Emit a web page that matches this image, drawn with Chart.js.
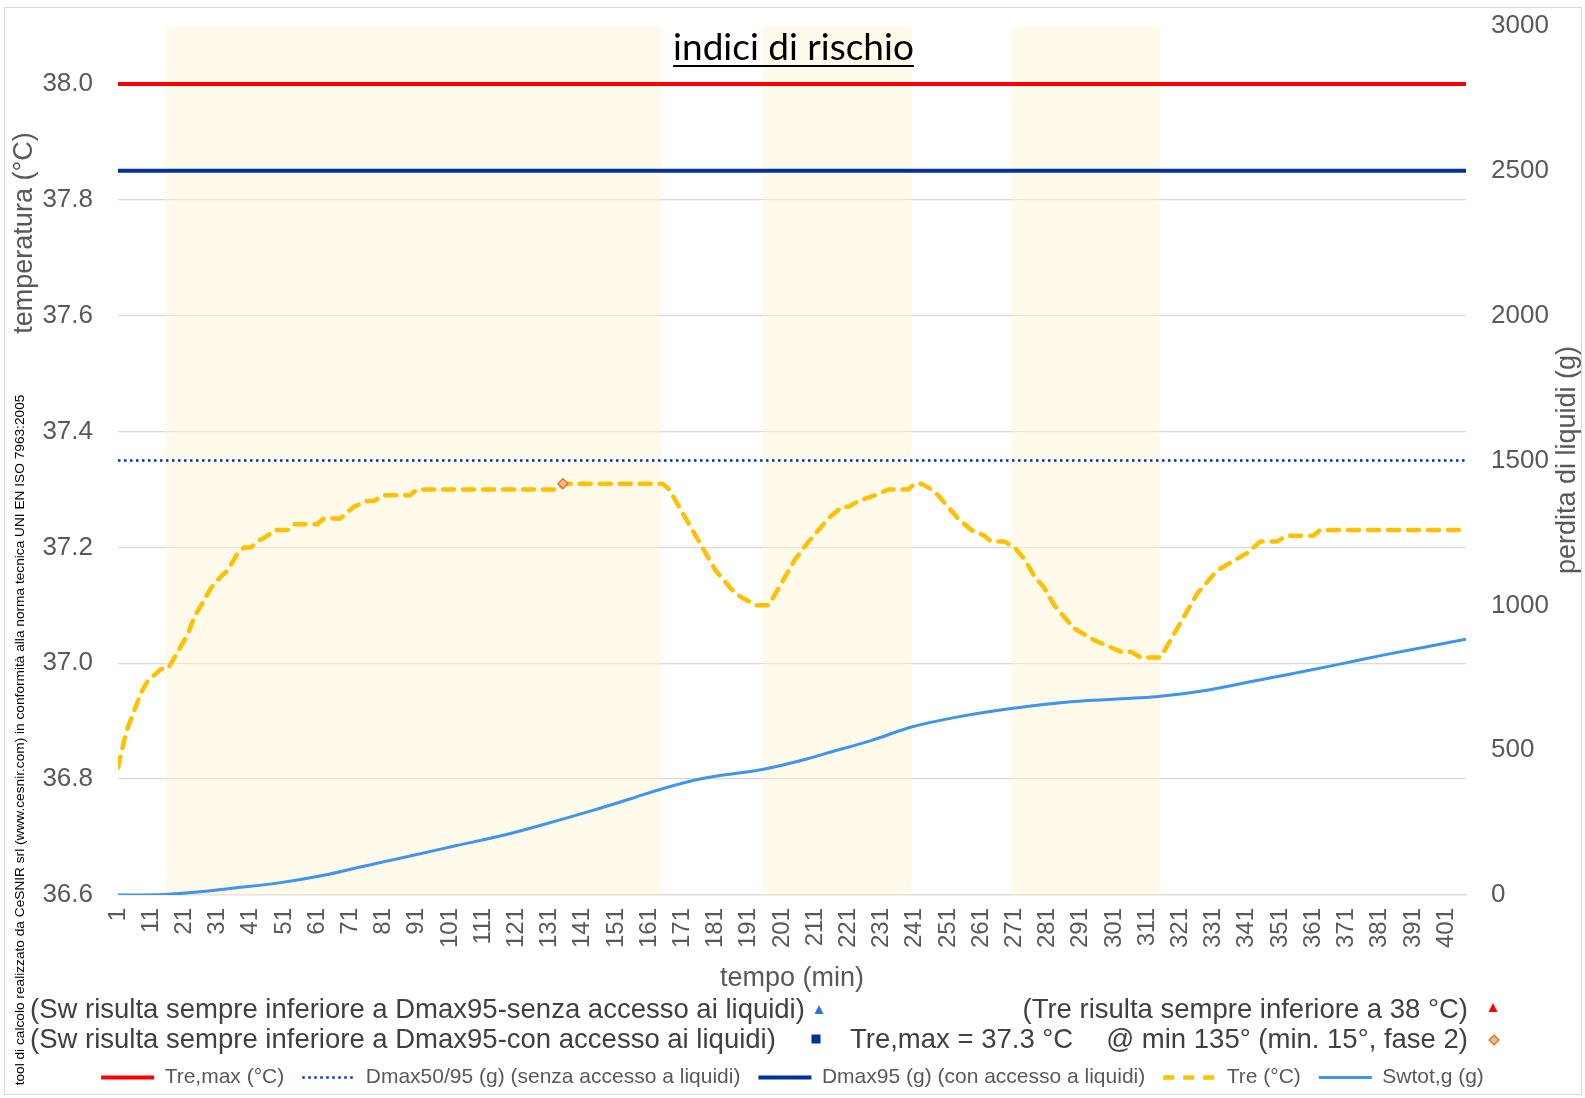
<!DOCTYPE html>
<html>
<head>
<meta charset="utf-8">
<title>indici di rischio</title>
<script src="https://cdn.jsdelivr.net/npm/chart.js@4.4.1/dist/chart.umd.min.js"></script>
<style>
  html, body { margin: 0; padding: 0; background: #fff; }
  #wrap { width: 1585px; height: 1098px; position: relative; }
</style>
</head>
<body>
<div id="wrap"><canvas id="chart"></canvas></div>
<script>
// ========== dati ==========
// Tre (°C) - temperatura rettale
const treMinutes = [1, 3, 4, 6, 8, 10, 12, 14, 16, 19,
    22, 24, 26, 29, 32, 34, 37, 39, 41, 43,
    46, 48, 52, 54, 61, 63, 68, 70, 72, 76,
    78, 81, 89, 91, 134, 135, 165, 167, 169, 171,
    173, 175, 178, 181, 184, 187, 190, 193, 197, 199,
    202, 205, 209, 212, 215, 219, 221, 224, 229, 233,
    239, 241, 243, 246, 248, 251, 254, 258, 262, 264,
    268, 271, 274, 277, 280, 283, 286, 289, 292, 295,
    299, 303, 306, 309, 315, 317, 320, 323, 326, 329,
    332, 335, 338, 341, 343, 345, 350, 353, 361, 363,
    407];
const treValues = [36.82, 36.87, 36.89, 36.92, 36.95, 36.97, 36.98, 36.99, 36.99, 37.02,
    37.05, 37.08, 37.10, 37.13, 37.15, 37.16, 37.19, 37.20, 37.20, 37.21,
    37.22, 37.23, 37.23, 37.24, 37.24, 37.25, 37.25, 37.26, 37.27, 37.28,
    37.28, 37.29, 37.29, 37.30, 37.30, 37.31, 37.31, 37.30, 37.28, 37.26,
    37.24, 37.22, 37.19, 37.16, 37.14, 37.12, 37.11, 37.10, 37.10, 37.12,
    37.15, 37.18, 37.21, 37.23, 37.25, 37.27, 37.27, 37.28, 37.29, 37.30,
    37.30, 37.31, 37.31, 37.30, 37.29, 37.27, 37.25, 37.23, 37.22, 37.21,
    37.21, 37.20, 37.18, 37.15, 37.13, 37.10, 37.08, 37.06, 37.05, 37.04,
    37.03, 37.02, 37.02, 37.01, 37.01, 37.03, 37.06, 37.09, 37.12, 37.14,
    37.16, 37.17, 37.18, 37.19, 37.20, 37.21, 37.21, 37.22, 37.22, 37.23,
    37.23];

// Swtot,g (g) - perdita di liquidi
const swMinutes = [1, 15, 25, 36, 49, 63, 76, 90, 103, 117,
    130, 144, 157, 165, 177, 195, 207, 214, 228, 240,
    254, 270, 288, 315, 329, 342, 355, 369, 382, 396, 407];
const swValues = [0, 2, 10, 24, 41, 68, 102, 137, 171, 206,
    246, 292, 338, 367, 402, 433, 465, 488, 534, 580,
    615, 644, 667, 686, 707, 736, 765, 797, 828, 859, 883];

// fasi di lavoro (bande gialle)
const phaseStart = [15, 195, 270];
const phaseEnd = [165, 240, 315];

// soglie
const treMaxLimit = 38.0;
const dmax5095 = 1500;
const dmax95 = 2500;
const peakMinute = 135;
const peakValue = 37.31;

// assi
const xMin = 1;
const xMax = 407;
const xTicks = [1, 11, 21, 31, 41, 51, 61, 71, 81, 91,
    101, 111, 121, 131, 141, 151, 161, 171, 181, 191,
    201, 211, 221, 231, 241, 251, 261, 271, 281, 291,
    301, 311, 321, 331, 341, 351, 361, 371, 381, 391, 401];
const tempTicks = [36.6, 36.8, 37.0, 37.2, 37.4, 37.6, 37.8, 38.0];
const lossTicks = [0, 500, 1000, 1500, 2000, 2500, 3000];

// testi
const titleText = 'indici di rischio';
const xTitle = 'tempo (min)';
const yTitle = 'temperatura (°C)';
const y1Title = 'perdita di liquidi (g)';
const creditText = 'tool di calcolo realizzato da CeSNIR srl (www.cesnir.com) in conformità alla norma tecnica UNI EN ISO 7963:2005';
const noteSwSenza = '(Sw risulta sempre inferiore a Dmax95-senza accesso ai liquidi)';
const noteSwCon = '(Sw risulta sempre inferiore a Dmax95-con accesso ai liquidi)';
const noteTre = '(Tre risulta sempre inferiore a 38 °C)';
const noteTreMax = 'Tre,max = 37.3 °C';
const notePeak = '@ min 135° (min. 15°, fase 2)';

const GREY = '#595959';
Chart.defaults.font.family = '"Liberation Sans", Arial, sans-serif';

function pairs(xs, ys) {
    return xs.map((x, i) => ({ x: x, y: ys[i] }));
}

function hLine(v) {
    return [{ x: xMin, y: v }, { x: xMax, y: v }];
}

// ========== testi e riquadro ==========
function rotatedText(ctx, text, x, y, font, color) {
    ctx.save();
    ctx.translate(x, y);
    ctx.rotate(-Math.PI / 2);
    ctx.font = font;
    ctx.fillStyle = color;
    ctx.textAlign = 'center';
    ctx.textBaseline = 'middle';
    ctx.fillText(text, 0, 0);
    ctx.restore();
}

const annotations = {
    id: 'annotations',
    afterDraw(chart) {
        const ctx = chart.ctx;
        ctx.save();

        // riquadro del grafico
        ctx.strokeStyle = '#D9D9D9';
        ctx.lineWidth = 1;
        ctx.strokeRect(4.5, 7.5, 1577, 1087);

        // titolo sottolineato
        ctx.font = '37px Lato, "Noto Sans", sans-serif';
        ctx.fillStyle = '#000';
        ctx.textAlign = 'center';
        ctx.textBaseline = 'alphabetic';
        ctx.fillText(titleText, 793.5, 60);
        const tw = ctx.measureText(titleText).width;
        ctx.fillRect(793.5 - tw / 2, 65, tw, 2);

        // titoli degli assi
        const axisFont = '27px "Liberation Sans", Arial, sans-serif';
        rotatedText(ctx, yTitle, 25, 233, axisFont, GREY);
        rotatedText(ctx, y1Title, 1568, 460, axisFont, GREY);
        ctx.font = axisFont;
        ctx.fillStyle = GREY;
        ctx.textAlign = 'center';
        ctx.textBaseline = 'middle';
        ctx.fillText(xTitle, 792, 979);

        // note
        ctx.font = '27.5px "Liberation Sans", Arial, sans-serif';
        ctx.fillStyle = '#404040';
        ctx.textAlign = 'left';
        ctx.fillText(noteSwSenza, 30, 1010);
        ctx.fillText(noteSwCon, 30, 1040);
        ctx.fillText(noteTreMax, 850, 1040);
        ctx.textAlign = 'right';
        ctx.fillText(noteTre, 1468, 1010);
        ctx.fillText(notePeak, 1468, 1040);

        // marcatori delle note
        ctx.fillStyle = '#2A75E0';
        ctx.beginPath();
        ctx.moveTo(819, 1005); ctx.lineTo(823.5, 1014); ctx.lineTo(814.5, 1014);
        ctx.closePath(); ctx.fill();

        ctx.fillStyle = '#FF0000';
        ctx.beginPath();
        ctx.moveTo(1493, 1003); ctx.lineTo(1497.5, 1012); ctx.lineTo(1488.5, 1012);
        ctx.closePath(); ctx.fill();

        ctx.fillStyle = '#003399';
        ctx.fillRect(811.5, 1034.5, 9, 9);

        ctx.fillStyle = '#F8B88B';
        ctx.strokeStyle = '#E46C0A';
        ctx.lineWidth = 1.2;
        ctx.beginPath();
        ctx.moveTo(1494, 1035); ctx.lineTo(1499, 1040); ctx.lineTo(1494, 1045); ctx.lineTo(1489, 1040);
        ctx.closePath(); ctx.fill(); ctx.stroke();

        ctx.restore();

        // crediti verticali
        rotatedText(ctx, creditText, 20, 740, '13.7px "Liberation Sans", Arial, sans-serif', '#000');
    }
};

// ========== dataset ==========
const datasets = [
    {
        label: 'Tre,max (°C)',
        data: hLine(treMaxLimit),
        yAxisID: 'y',
        borderColor: '#FF0000',
        borderWidth: 4,
        pointRadius: 0,
        order: 1
    },
    {
        label: 'Dmax50/95 (g) (senza accesso a liquidi)',
        data: hLine(dmax5095),
        yAxisID: 'y1',
        borderColor: '#0033A8',
        borderWidth: 2.5,
        borderDash: [2.5, 3.5],
        pointRadius: 0,
        order: 2
    },
    {
        label: 'Dmax95 (g) (con accesso a liquidi)',
        data: hLine(dmax95),
        yAxisID: 'y1',
        borderColor: '#003399',
        borderWidth: 4,
        pointRadius: 0,
        order: 3
    },
    {
        label: 'Tre (°C)',
        data: pairs(treMinutes, treValues),
        yAxisID: 'y',
        borderColor: '#FFC000',
        borderWidth: 4.5,
        borderDash: [11, 9],
        borderCapStyle: 'round',
        borderJoinStyle: 'round',
        pointRadius: 0,
        order: 4
    },
    {
        label: 'Swtot,g (g)',
        data: pairs(swMinutes, swValues),
        yAxisID: 'y1',
        borderColor: '#3D95EE',
        borderWidth: 3,
        cubicInterpolationMode: 'monotone',
        pointRadius: 0,
        order: 5
    },
    {
        label: 'Tre,max',
        data: [{ x: peakMinute, y: peakValue }],
        yAxisID: 'y',
        showLine: false,
        pointStyle: 'rectRot',
        pointRadius: 5,
        pointBackgroundColor: '#F8B88B',
        pointBorderColor: '#E0641E',
        pointBorderWidth: 1.2,
        noLegend: true,
        order: 0
    }
];

phaseStart.forEach((s, i) => {
    datasets.push({
        label: 'fase ' + (i + 1),
        data: [{ x: s, y: 3000 }, { x: phaseEnd[i], y: 3000 }],
        yAxisID: 'y1',
        borderColor: 'transparent',
        backgroundColor: 'rgba(255, 242, 204, 0.42)',
        fill: 'origin',
        pointRadius: 0,
        noLegend: true,
        order: 10
    });
});

// legenda con tratteggio e spessore della linea
function legendLabels(chart) {
    return Chart.defaults.plugins.legend.labels.generateLabels(chart).map(item => {
        const ds = chart.data.datasets[item.datasetIndex];
        item.lineDash = ds.borderDash || [];
        item.lineWidth = ds.borderWidth;
        item.strokeStyle = ds.borderColor;
        item.lineCap = 'butt';
        return item;
    });
}

new Chart(document.getElementById('chart'), {
    type: 'line',
    data: { datasets: datasets },
    plugins: [annotations],
    options: {
        responsive: true,
        maintainAspectRatio: false,
        animation: false,
        events: [],
        layout: { padding: { top: 26, left: 0, right: 0, bottom: 0 } },
        scales: {
            x: {
                type: 'linear',
                min: xMin,
                max: xMax,
                afterBuildTicks: s => { s.ticks = xTicks.map(v => ({ value: v })); },
                afterFit: s => { s.height = 154; },
                grid: { display: false, drawTicks: false },
                border: { display: true, color: '#D9D9D9', width: 1.3 },
                ticks: {
                    autoSkip: false,
                    minRotation: 90,
                    maxRotation: 90,
                    padding: 13,
                    color: GREY,
                    font: { size: 24 },
                    callback: v => String(v)
                }
            },
            y: {
                position: 'left',
                min: 36.6,
                max: 38.1,
                afterBuildTicks: s => { s.ticks = tempTicks.map(v => ({ value: v })); },
                afterFit: s => { s.width = 118; },
                grid: { color: '#D9D9D9', lineWidth: 1.3, drawTicks: true, tickLength: 25, tickColor: 'transparent' },
                border: { display: false },
                ticks: { padding: 0, color: GREY, font: { size: 26 }, callback: v => v.toFixed(1) }
            },
            y1: {
                position: 'right',
                min: 0,
                max: 3000,
                afterBuildTicks: s => { s.ticks = lossTicks.map(v => ({ value: v })); },
                afterFit: s => { s.width = 119; },
                grid: { display: true, drawOnChartArea: false, drawTicks: true, tickLength: 25, tickColor: 'transparent', color: 'transparent' },
                border: { display: false },
                ticks: { padding: 0, color: GREY, font: { size: 26 }, callback: v => String(v) }
            }
        },
        plugins: {
            tooltip: { enabled: false },
            legend: {
                position: 'bottom',
                labels: {
                    usePointStyle: true,
                    pointStyle: 'line',
                    pointStyleWidth: 53,
                    boxHeight: 10,
                    padding: 18,
                    color: GREY,
                    font: { size: 21 },
                    generateLabels: legendLabels,
                    filter: (item, data) => !data.datasets[item.datasetIndex].noLegend
                }
            }
        }
    }
});
</script>
</body>
</html>
